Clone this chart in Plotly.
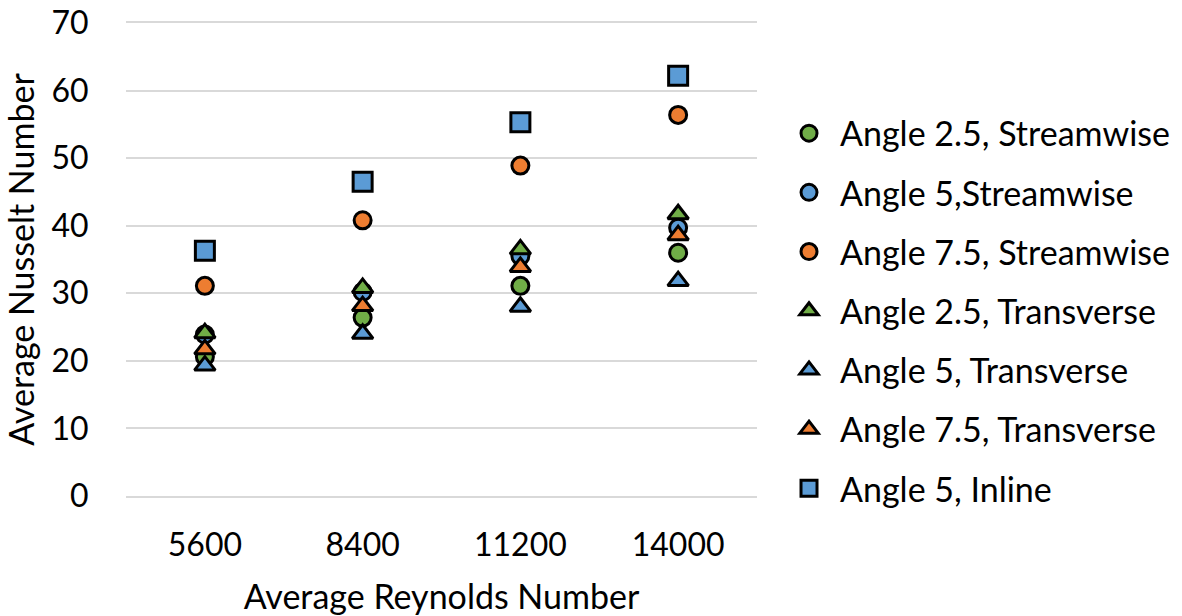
import plotly.graph_objects as go

# Reynolds-number categories on the x axis
reynolds = ["5600", "8400", "11200", "14000"]

# Average Nusselt number per configuration
nu_a25_stream = [20.6, 26.4, 31.1, 36.0]
nu_a5_stream = [23.9, 30.2, 35.5, 39.7]
nu_a75_stream = [31.1, 40.8, 48.9, 56.4]
nu_a25_trans = [24.1, 30.8, 36.5, 41.7]
nu_a5_trans = [19.3, 24.0, 28.0, 31.8]
nu_a75_trans = [21.7, 28.1, 33.9, 38.6]
nu_a5_inline = [36.3, 46.5, 55.3, 62.2]

GREEN = "#70AD47"
BLUE = "#5B9BD5"
ORANGE = "#ED7D31"
GRID = "#D9D9D9"
FONT = "Lato"

series = [
    ("Angle 2.5, Streamwise", nu_a25_stream, "circle", GREEN, 17),
    ("Angle 5,Streamwise", nu_a5_stream, "circle", BLUE, 17),
    ("Angle 7.5, Streamwise", nu_a75_stream, "circle", ORANGE, 17),
    ("Angle 2.5, Transverse", nu_a25_trans, "triangle-up", GREEN, 18),
    ("Angle 5, Transverse", nu_a5_trans, "triangle-up", BLUE, 18),
    ("Angle 7.5, Transverse", nu_a75_trans, "triangle-up", ORANGE, 18),
    ("Angle 5, Inline", nu_a5_inline, "square", BLUE, 19),
]

fig = go.Figure()
for i, (name, vals, sym, col, size) in enumerate(series):
    fig.add_trace(go.Scatter(
        x=reynolds, y=vals, mode="markers", name=name,
        legendgroup=f"g{i}",
        marker=dict(symbol=sym, color=col, size=size,
                    line=dict(color="black", width=3)),
    ))

fig.update_layout(
    width=1182, height=616,
    margin=dict(l=126, r=425, t=23, b=120, autoexpand=False),
    paper_bgcolor="white", plot_bgcolor="white",
    font=dict(family=FONT, size=32, color="black"),
    showlegend=True,
    legend=dict(
        x=1.0333, xanchor="left", y=0.391, yanchor="middle",
        font=dict(family=FONT, size=34, color="black"),
        tracegroupgap=12, itemsizing="trace", itemwidth=52,
        bgcolor="rgba(0,0,0,0)",
    ),
    xaxis=dict(
        type="category", range=[-0.5, 3.5], automargin=False,
        showgrid=False, zeroline=False,
        # horizontal rules at the top and bottom of the plot area (y = 70 and y = 0)
        showline=True, mirror=True, linecolor=GRID, linewidth=2,
        ticks="outside", ticklen=20, tickcolor="rgba(0,0,0,0)",
        tickfont=dict(family=FONT, size=32),
        title=dict(text="Average Reynolds Number", standoff=32,
                   font=dict(family=FONT, size=34)),
    ),
    yaxis=dict(
        range=[0, 70], dtick=10, tick0=0, automargin=False,
        showgrid=True, gridcolor=GRID, gridwidth=2,
        showline=False, zeroline=False,
        ticks="outside", ticklen=30, tickcolor="rgba(0,0,0,0)",
        tickfont=dict(family=FONT, size=32),
        title=dict(text="Average Nusselt Number", standoff=6,
                   font=dict(family=FONT, size=34)),
    ),
)

fig.write_html("out.html")
